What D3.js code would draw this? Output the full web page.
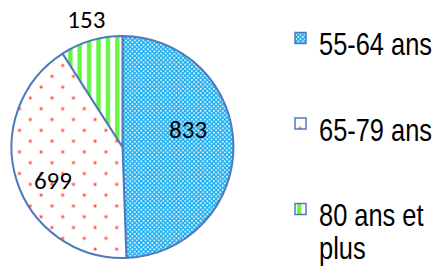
<!DOCTYPE html>
<html>
<head>
<meta charset="utf-8">
<script src="https://cdn.jsdelivr.net/npm/d3@7"></script>
<style>
  body { margin: 0; background: #fff; }
  svg { display: block; }
</style>
</head>
<body>
<script>
// data
var categories = ["55-64 ans", "65-79 ans", "80 ans et plus"];
var values = [833, 699, 153];
var legendLines = [["55-64 ans"], ["65-79 ans"], ["80 ans et", "plus"]];

var width = 441,
    height = 270,
    cx = 122.5, cy = 147,
    radius = 111;

var svg = d3.select("body").append("svg")
    .attr("width", width)
    .attr("height", height);

var defs = svg.append("defs");

// blue checker
var p1 = defs.append("pattern")
    .attr("id", "pat0")
    .attr("patternUnits", "userSpaceOnUse")
    .attr("width", 4.4).attr("height", 4.4);
p1.append("rect").attr("width", 4.4).attr("height", 4.4).attr("fill", "#14acf0");
p1.append("rect").attr("x", 0.3).attr("y", 0.3).attr("width", 1.7).attr("height", 1.7).attr("fill", "#fff");
p1.append("rect").attr("x", 2.5).attr("y", 2.5).attr("width", 1.7).attr("height", 1.7).attr("fill", "#fff");

// red dots, staggered
var p2 = defs.append("pattern")
    .attr("id", "pat1")
    .attr("patternUnits", "userSpaceOnUse")
    .attr("width", 21.6).attr("height", 21.6);
p2.append("rect").attr("width", 21.6).attr("height", 21.6).attr("fill", "#fff");
[[5, 5], [15.8, 15.8]].forEach(function(d) {
  p2.append("circle").attr("cx", d[0]).attr("cy", d[1]).attr("r", 2.2).attr("fill", "#fdd3c8");
  p2.append("circle").attr("cx", d[0]).attr("cy", d[1]).attr("r", 1.3).attr("fill", "#fb5a3c");
});

// green vertical stripes
var p3 = defs.append("pattern")
    .attr("id", "pat2")
    .attr("patternUnits", "userSpaceOnUse")
    .attr("width", 9.4).attr("height", 10);
p3.append("rect").attr("width", 9.4).attr("height", 10).attr("fill", "#fff");
p3.append("rect").attr("x", 2).attr("width", 4.4).attr("height", 10).attr("fill", "#66f545");

var pie = d3.pie()
    .sort(null)
    .value(function(d) { return d; });

var arc = d3.arc()
    .innerRadius(0)
    .outerRadius(radius);

var arcs = pie(values);

var g = svg.append("g")
    .attr("transform", "translate(" + cx + "," + cy + ")");

g.selectAll("path")
    .data(arcs)
  .enter().append("path")
    .attr("d", arc)
    .attr("fill", function(d, i) { return "url(#pat" + i + ")"; })
    .attr("stroke", "#5079bd")
    .attr("stroke-width", 2)
    .attr("stroke-linejoin", "round");

// label placement: radius from centre, nudge of the angle (best fit)
var labelRadius = [68, 77, 133];
var labelNudge = [-0.25, -0.14, 0.01];

g.selectAll(".lbl")
    .data(arcs)
  .enter().append("text")
    .attr("class", "lbl")
    .attr("x", function(d, i) {
      var a = (d.startAngle + d.endAngle) / 2 + labelNudge[i];
      return Math.sin(a) * labelRadius[i];
    })
    .attr("y", function(d, i) {
      var a = (d.startAngle + d.endAngle) / 2 + labelNudge[i];
      return -Math.cos(a) * labelRadius[i];
    })
    .attr("dy", "0.35em")
    .attr("text-anchor", "middle")
    .style("font-family", "Carlito, Lato, 'Open Sans', sans-serif")
    .style("font-size", "25px")
    .attr("fill", "#000")
    .text(function(d) { return d.data; });

// legend
var legY = d3.scalePoint()
    .domain(categories)
    .range([38, 209]);

var leg = svg.selectAll(".leg")
    .data(categories)
  .enter().append("g")
    .attr("class", "leg")
    .attr("transform", function(d) { return "translate(295," + legY(d) + ")"; });

leg.append("rect")
    .attr("x", 0).attr("y", -5.5)
    .attr("width", 11).attr("height", 11)
    .attr("fill", function(d, i) { return "url(#pat" + i + ")"; })
    .attr("stroke", "#5079bd")
    .attr("stroke-width", 1.5);

// narrow look: squeeze Liberation Sans horizontally
leg.append("g")
    .attr("transform", "translate(24,17) scale(0.82,1)")
  .append("text")
    .style("font-family", "'Liberation Sans', Arial, sans-serif")
    .style("font-size", "31px")
    .attr("fill", "#000")
    .selectAll("tspan")
    .data(function(d, i) { return legendLines[i]; })
  .enter().append("tspan")
    .attr("x", 0)
    .attr("dy", function(d, j) { return j ? 33 : 0; })
    .text(function(d) { return d; });
</script>
</body>
</html>
